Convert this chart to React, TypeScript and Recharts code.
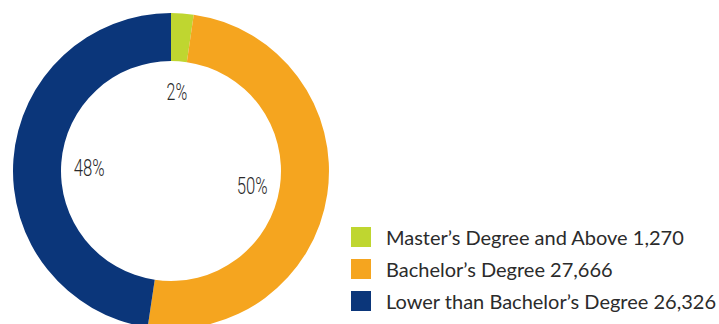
import { PieChart, Pie, Cell, Legend } from 'recharts'

const categories = ['Master’s Degree and Above', 'Bachelor’s Degree', 'Lower than Bachelor’s Degree']
const counts = [1270, 27666, 26326]
const countLabels = ['1,270', '27,666', '26,326']
const colors = ['#BFD630', '#F5A51F', '#0B367A']

const data = categories.map((name, i) => ({ name, value: counts[i], label: countLabels[i] }))

const RADIAN = Math.PI / 180

// condensed look for the % labels inside the hole
function renderLabel ({ cx, cy, midAngle, innerRadius, percent }: any) {
  const r = innerRadius - 28
  const x = cx + r * Math.cos(-midAngle * RADIAN)
  const y = cy + r * Math.sin(-midAngle * RADIAN) + 3
  const txt = `${Math.round(percent * 100)}%`
  return (
    <text x={x} y={y} fill="#2a2a2a" textAnchor="middle" dominantBaseline="central"
      textLength={txt.length * 10.3} lengthAdjust="spacingAndGlyphs"
      style={{ fontFamily: 'Roboto, sans-serif', fontSize: 24, fontWeight: 300 }}>
      {txt}
    </text>
  )
}

function renderLegend () {
  return (
    <div style={{ fontFamily: 'Lato, sans-serif', fontSize: 20, color: '#2b2b2b' }}>
      {data.map((d, i) => (
        <div key={d.name} style={{ display: 'flex', alignItems: 'center', height: 32 }}>
          <span style={{ width: 20, height: 20, background: colors[i], marginRight: 15, display: 'inline-block' }} />
          <span>{d.name} {d.label}</span>
        </div>
      ))}
    </div>
  )
}

export default function App () {
  return (
    <div style={{ position: 'absolute', left: 0, top: 0, background: '#fff' }}>
      <PieChart width={719} height={324} margin={{ top: 0, right: 0, bottom: 0, left: 0 }}>
        <Pie
          data={data}
          dataKey="value"
          cx={171}
          cy={171}
          innerRadius={110}
          outerRadius={158}
          startAngle={90}
          endAngle={-270}
          stroke="none"
          label={renderLabel}
          labelLine={false}
          isAnimationActive={false}
        >
          {data.map((d, i) => <Cell key={d.name} fill={colors[i]} />)}
        </Pie>
        <Legend content={renderLegend} wrapperStyle={{ position: 'absolute', left: 351, top: 221, width: 368 }} />
      </PieChart>
    </div>
  )
}
